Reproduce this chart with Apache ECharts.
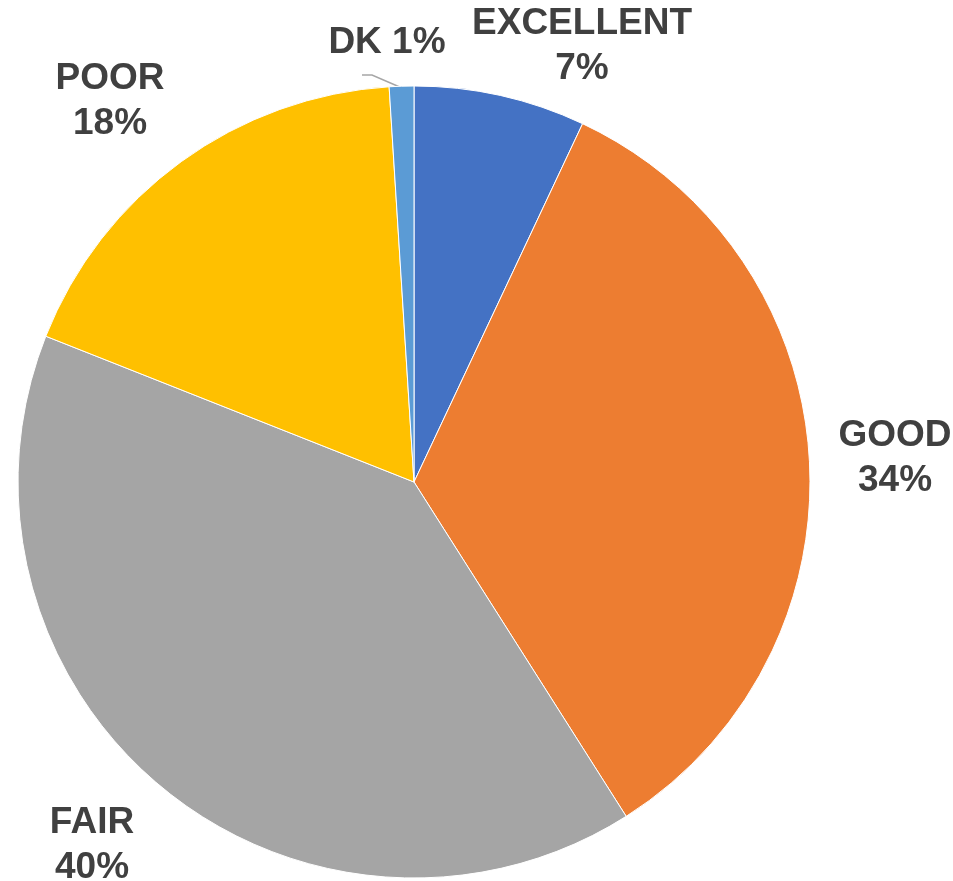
<!DOCTYPE html>
<html>
<head>
<meta charset="utf-8">
<script src="https://cdn.jsdelivr.net/npm/echarts@6/dist/echarts.min.js"></script>
<style>
  html, body { margin: 0; padding: 0; background: #fff; }
  #chart { width: 953px; height: 881px; }
</style>
</head>
<body>
<div id="chart"></div>
<script>
// data
var categories = ["EXCELLENT", "GOOD", "FAIR", "POOR", "DK"];
var values = [7, 34, 40, 18, 1];
var colors = ["#4472C4", "#ED7D31", "#A5A5A5", "#FFC000", "#5B9BD5"];

// where the labels sit (label block centre, px)
var labelSpots = [[582, 46], [895, 458], [92, 845], [110, 101], [387, 43]];

var chart = echarts.init(document.getElementById("chart"));

var pieData = categories.map(function (name, i) {
  return {
    name: name,
    value: values[i],
    itemStyle: { color: colors[i] },
    labelLine: { show: name === "DK" }
  };
});

chart.setOption({
  animation: false,
  series: [
    {
      type: "pie",
      center: [414, 482],
      radius: 396,
      startAngle: 90,
      clockwise: true,
      data: pieData,
      itemStyle: { borderColor: "#fff", borderWidth: 1 },
      label: {
        show: true,
        position: "outside",
        overflow: "none",
        fontFamily: "Liberation Sans, Arial, sans-serif",
        fontWeight: "bold",
        fontSize: 37,
        lineHeight: 45,
        color: "#404040",
        align: "center",
        formatter: function (p) {
          var pct = Math.round(p.percent) + "%";
          return p.name === "DK" ? p.name + " " + pct : p.name + "\n" + pct;
        }
      },
      labelLine: {
        lineStyle: { color: "#A6A6A6", width: 1.5 },
        length: 8,
        length2: 10
      },
      labelLayout: function (params) {
        var spot = labelSpots[params.dataIndex];
        var out = {
          x: spot[0],
          y: spot[1],
          align: "center",
          verticalAlign: "middle"
        };
        if (params.dataIndex === 4) {
          out.labelLinePoints = [[402, 88], [372, 75], [362, 75]];
        }
        return out;
      }
    }
  ]
});
</script>
</body>
</html>
